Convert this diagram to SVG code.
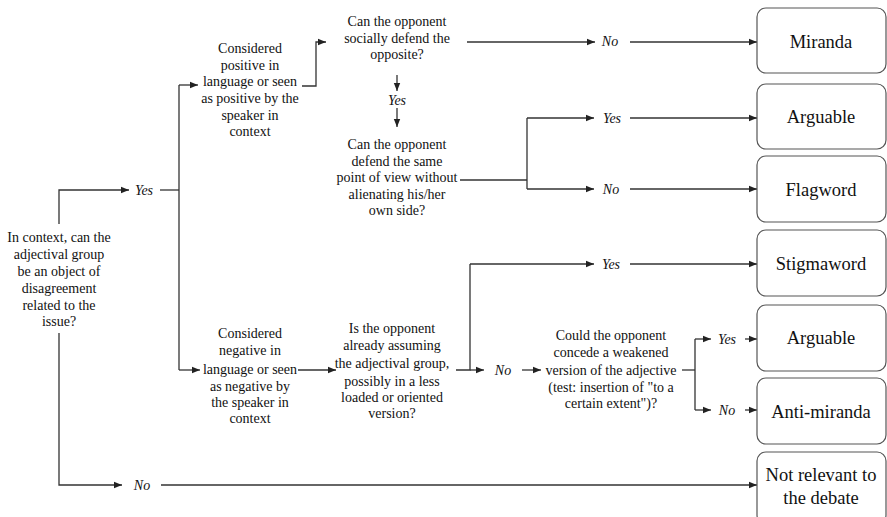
<svg xmlns="http://www.w3.org/2000/svg" width="887" height="517" viewBox="0 0 887 517" font-family="Liberation Serif, DejaVu Serif, Times New Roman, serif">
<defs>
<marker id="ah" markerUnits="userSpaceOnUse" markerWidth="8" markerHeight="8" viewBox="0 0 8 8" refX="8" refY="4" orient="auto">
<path d="M0,0.8 L8,4 L0,7.2 Z" fill="#222"/>
</marker>
<style>
text{fill:#111;text-anchor:middle}
.t{font-size:14px}
.l{font-size:14px;font-style:italic}
.b{font-size:18.5px}
.box{fill:#fff;stroke:#555;stroke-width:1.2}
.c{fill:none;stroke:#333;stroke-width:1.3}
.a{fill:none;stroke:#333;stroke-width:1.3;marker-end:url(#ah)}
</style>
</defs>
<rect width="887" height="517" fill="#fff"/>

<g id="connectors">
<path class="a" d="M59,224 V190 H129"/>
<path class="c" d="M160,190 H179"/>
<path class="c" d="M179,85 V370"/>
<path class="a" d="M179,85 H198"/>
<path class="a" d="M179,370 H200"/>
<path class="a" d="M59,333 V485 H122"/>
<path class="a" d="M161,485 H757"/>
<path class="a" d="M302,86 H316 V42 H326"/>
<path class="a" d="M467,42 H595"/>
<path class="a" d="M630,42 H757"/>
<path class="a" d="M397,75 V91"/>
<path class="a" d="M397,108 V127"/>
<path class="c" d="M460,180 H527"/>
<path class="c" d="M527,118 V189"/>
<path class="a" d="M527,118 H594"/>
<path class="a" d="M630,118 H757"/>
<path class="a" d="M527,189 H594"/>
<path class="a" d="M630,189 H757"/>
<path class="a" d="M298,370 H336"/>
<path class="c" d="M456,370 H470 V264"/>
<path class="a" d="M470,264 H594"/>
<path class="a" d="M630,264 H757"/>
<path class="a" d="M470,370 H484"/>
<path class="a" d="M522,370 H541"/>
<path class="c" d="M682,370 H695"/>
<path class="c" d="M695,339 V410"/>
<path class="a" d="M695,339 H711"/>
<path class="a" d="M745,339 H757"/>
<path class="a" d="M695,410 H711"/>
<path class="a" d="M745,410 H757"/>
</g>

<g id="labels">
<text class="l" x="144" y="195">Yes</text>
<text class="l" x="142" y="490">No</text>
<text class="l" x="610" y="46">No</text>
<text class="l" x="397" y="105">Yes</text>
<text class="l" x="612" y="123">Yes</text>
<text class="l" x="611" y="194">No</text>
<text class="l" x="611" y="269">Yes</text>
<text class="l" x="503" y="375">No</text>
<text class="l" x="727" y="344">Yes</text>
<text class="l" x="727" y="415">No</text>
</g>

<g id="q-root">
<text class="t" x="59" y="242">In context, can the</text>
<text class="t" x="59" y="259">adjectival group</text>
<text class="t" x="59" y="276">be an object of</text>
<text class="t" x="59" y="293">disagreement</text>
<text class="t" x="59" y="310">related to the</text>
<text class="t" x="59" y="326">issue?</text>
</g>

<g id="positive">
<text class="t" x="250" y="53">Considered</text>
<text class="t" x="250" y="70">positive in</text>
<text class="t" x="250" y="86">language or seen</text>
<text class="t" x="250" y="103">as positive by the</text>
<text class="t" x="250" y="120">speaker in</text>
<text class="t" x="250" y="136">context</text>
</g>

<g id="q-social">
<text class="t" x="397" y="26">Can the opponent</text>
<text class="t" x="397" y="43">socially defend the</text>
<text class="t" x="397" y="59">opposite?</text>
</g>

<g id="q-same">
<text class="t" x="397" y="149">Can the opponent</text>
<text class="t" x="397" y="166">defend the same</text>
<text class="t" x="397" y="182">point of view without</text>
<text class="t" x="397" y="199">alienating his/her</text>
<text class="t" x="397" y="215">own side?</text>
</g>

<g id="negative">
<text class="t" x="250" y="338">Considered</text>
<text class="t" x="250" y="355">negative in</text>
<text class="t" x="250" y="374">language or seen</text>
<text class="t" x="250" y="391">as negative by</text>
<text class="t" x="250" y="407">the speaker in</text>
<text class="t" x="250" y="423">context</text>
</g>

<g id="q-assuming">
<text class="t" x="392" y="333">Is the opponent</text>
<text class="t" x="392" y="350">already assuming</text>
<text class="t" x="392" y="368">the adjectival group,</text>
<text class="t" x="392" y="386">possibly in a less</text>
<text class="t" x="392" y="402">loaded or oriented</text>
<text class="t" x="392" y="418">version?</text>
</g>

<g id="q-concede">
<text class="t" x="611" y="340">Could the opponent</text>
<text class="t" x="611" y="357">concede a weakened</text>
<text class="t" x="611" y="375">version of the adjective</text>
<text class="t" x="611" y="392">(test: insertion of "to a</text>
<text class="t" x="611" y="408">certain extent")?</text>
</g>

<g id="miranda"><rect class="box" x="757" y="8" width="129" height="65" rx="9"/><text class="b" x="821" y="48">Miranda</text></g>
<g id="arguable1"><rect class="box" x="757" y="84" width="129" height="65" rx="9"/><text class="b" x="821" y="123">Arguable</text></g>
<g id="flagword"><rect class="box" x="757" y="156" width="129" height="66" rx="9"/><text class="b" x="821" y="196">Flagword</text></g>
<g id="stigmaword"><rect class="box" x="757" y="230" width="129" height="66" rx="9"/><text class="b" x="821" y="270">Stigmaword</text></g>
<g id="arguable2"><rect class="box" x="757" y="305" width="129" height="66" rx="9"/><text class="b" x="821" y="344">Arguable</text></g>
<g id="antimiranda"><rect class="box" x="757" y="378" width="129" height="66" rx="9"/><text class="b" x="821" y="418">Anti-miranda</text></g>
<g id="notrelevant"><rect class="box" x="757" y="452" width="129" height="72" rx="9"/><text class="b" x="821" y="481">Not relevant to</text><text class="b" x="821" y="504">the debate</text></g>
</svg>
